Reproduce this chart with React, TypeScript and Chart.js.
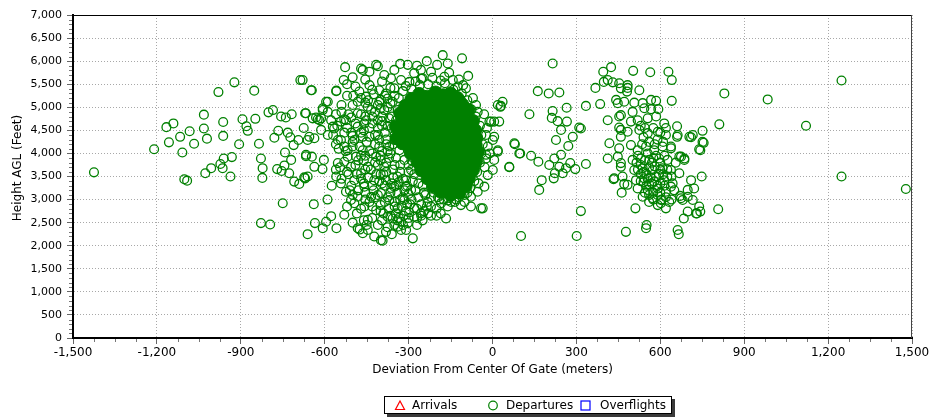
import React, { useEffect, useRef } from "react";
import { Chart, registerables } from "chart.js";

Chart.register(...registerables);

// ---- axes ----
const xMin = -1500;
const xMax = 1500;
const xStep = 300;
const xMinorStep = 75;
const yMin = 0;
const yMax = 7000;
const yStep = 500;
const yMinorStep = 100;
const xTitle = "Deviation From Center Of Gate (meters)";
const yTitle = "Height AGL (Feet)";
const seriesNames = ["Arrivals", "Departures", "Overflights"];

// ---- Departures: [deviation m, height ft] ----
const westPoints: [number, number][] = [
  [-1425, 3590], [-1210, 4090], [-1166, 4570], [-1141, 4650], [-1157, 4240], [-1117, 4360], [-1109, 4020],
  [-1083, 4480], [-1067, 4210], [-1102, 3440], [-1092, 3410], [-1032, 4840], [-1032, 4540], [-1021, 4320],
  [-1027, 3570], [-1006, 3680], [-980, 5330], [-963, 4680], [-963, 4380], [-923, 5540], [-973, 3770],
  [-961, 3890], [-932, 3920], [-965, 3680], [-937, 3500], [-906, 4200], [-894, 4740], [-880, 4590],
  [-875, 4490], [-852, 5360], [-848, 4750], [-835, 4210], [-828, 3890], [-822, 3680], [-823, 3470],
  [-828, 2490], [-795, 2460], [-801, 4890], [-785, 4940], [-780, 4340], [-766, 4490], [-756, 4800],
  [-739, 4780], [-718, 4850], [-732, 4450], [-723, 4350], [-770, 3660], [-754, 3620], [-744, 3740],
  [-720, 3860], [-742, 4020], [-711, 4180], [-694, 4290], [-727, 3570], [-709, 3390], [-691, 3340],
  [-673, 3480], [-750, 2920], [-687, 5590], [-646, 5370], [-670, 4870], [-675, 4550], [-667, 3970],
  [-646, 3930], [-661, 4290], [-637, 4330], [-625, 4740], [-608, 3660], [-603, 3860], [-639, 2900],
  [-635, 2490], [-661, 2250], [-607, 2380], [-595, 2520], [-577, 2640], [-558, 2380], [-589, 5120],
  [-607, 4940], [-558, 5360], [-532, 5590], [-527, 5870],
];

const midWestPoints: [number, number][] = [
  [-679, 5590], [-649, 5370], [-559, 5350], [-470, 5840], [-410, 5890], [-667, 4870], [-595, 5120],
  [-613, 4760], [-631, 4780], [-655, 4360], [-667, 3940], [-670, 3460], [-553, 3790], [-559, 3500],
  [-530, 3820], [-518, 4070], [-542, 4290], [-571, 4580], [-542, 4690], [-530, 4740], [-482, 5120],
  [-482, 4870], [-476, 5340], [-405, 5120], [-375, 5190], [-530, 2670], [-494, 2920], [-482, 2380],
  [-464, 2270], [-393, 2110], [-381, 2300], [-339, 2410], [-327, 2520], [-309, 2340], [-607, 4980],
  [-589, 4900], [-577, 4720], [-619, 4720], [-643, 4760], [-613, 4510], [-566, 4540], [-589, 4400],
  [-524, 4720], [-553, 4290], [-530, 4150], [-518, 3930], [-542, 3350], [-524, 3170], [-506, 2990],
  [-482, 3060], [-494, 3420], [-470, 3570], [-506, 3710], [-488, 3930], [-494, 4290], [-464, 4360],
  [-482, 4580], [-452, 4720], [-446, 5010], [-637, 3710], [-661, 3500],
  [-500, 5650], [-455, 5600], [-395, 5560], [-365, 5420], [-430, 5380], [-490, 5450],
  [-520, 5250], [-470, 5200], [-425, 5280], [-365, 5080], [-400, 4980], [-455, 5100], [-500, 5050],
  [-540, 4900], [-505, 4780], [-470, 4850], [-420, 4900], [-395, 4800], [-455, 4800], [-370, 4760],
  [-555, 4600], [-520, 4550], [-490, 4650], [-470, 4450], [-440, 4550], [-410, 4400], [-380, 4300],
  [-360, 4550], [-395, 4700], [-500, 4380], [-530, 4450],
  [-560, 4200], [-525, 4050], [-500, 4250], [-475, 4150], [-450, 4250], [-430, 4000], [-405, 4150],
  [-375, 4050], [-355, 4200], [-480, 3850], [-455, 3950],
  [-545, 3700], [-520, 3600], [-490, 3750], [-460, 3850], [-435, 3650], [-410, 3750], [-390, 3550],
  [-370, 3900], [-350, 3750], [-400, 3850],
];

const coreEdgePoints: [number, number][] = [
  [-178, 6130], [-109, 6060], [-87, 5680], [-95, 5410], [-142, 5590], [-198, 5920], [-220, 5770],
  [-256, 5810], [-280, 5740], [-303, 5920], [-330, 5940], [-351, 5810], [-363, 5630], [-387, 5700],
  [-416, 5920], [-440, 5770], [-464, 5810], [-440, 5480], [-405, 5370], [-381, 5300], [-351, 5410],
  [-327, 5590], [-297, 5550], [-250, 5630], [-172, 5660], [-124, 5450], [-113, 5160], [-59, 5050],
  [-53, 4900], [19, 5050], [-11, 4690], [6, 4690], [-23, 4400], [1, 4290], [-17, 4150], [-23, 3890],
  [1, 3640], [-17, 3530], [-29, 3280], [-53, 3170], [-77, 3060], [-41, 2810], [-77, 2850], [-113, 2880],
  [-148, 2950], [-184, 2920], [-166, 2590], [-220, 2850], [-256, 2700], [-280, 2630], [-303, 2490],
  [-327, 2340], [-285, 2160], [-351, 2450], [-375, 2630], [-399, 2120], [-423, 2200], [-446, 2340],
  [-339, 2810], [-315, 2990], [-291, 3210], [-309, 3420], [-291, 3640], [-315, 3860], [-333, 4070],
  [-351, 4290], [-339, 4510], [-345, 4720], [-339, 4940], [-357, 5120], [-387, 4940], [-410, 4720],
  [-434, 4940], [-458, 4650], [-440, 4360], [-405, 4290], [-369, 4150], [-416, 3930], [-387, 3710],
  [-446, 3710], [-423, 3420], [-381, 3420], [-351, 3280], [-399, 3140], [-434, 3060], [-458, 2850],
  [-416, 2770], [-369, 2990], [-357, 2590], [-446, 2560], [-458, 3280], [-464, 4070], [-452, 5230],
  [-399, 5160],
  [-360, 4800], [-375, 4600], [-350, 4400], [-385, 4450], [-365, 4000], [-380, 3800], [-355, 3650],
  [-340, 3500], [-400, 3550], [-360, 3350], [-395, 4050], [-420, 4200], [-410, 4550], [-375, 5000],
  [-430, 4650], [-345, 3900], [-330, 3750], [-320, 3450], [-305, 3300], [-300, 3600], [-290, 3850],
  [-350, 5250], [-320, 5350], [-290, 5400], [-260, 5480], [-230, 5500], [-200, 5450], [-170, 5520],
  [-140, 5380], [-110, 5300], [-90, 5150], [-75, 4950], [-60, 4800], [-45, 4600], [-40, 4400],
  [-35, 4200], [-40, 4000], [-45, 3800], [-55, 3600], [-65, 3400], [-80, 3250], [-100, 3100],
  [-130, 3000], [-160, 2980], [-190, 3000], [-220, 3050], [-245, 3150], [-265, 3350], [-280, 3550],
  [-300, 3750], [-30, 4850], [-20, 4550], [-28, 3700], [-10, 4000], [-50, 3350], [-255, 5620],
  [-215, 5640], [-155, 5750], [-120, 5600], [-270, 5900], [-235, 6000], [-160, 5950],
  [-310, 5460], [-275, 5560], [-185, 5580], [-105, 5480], [-335, 5200], [-70, 5200],
];

const lowerLobePoints: [number, number][] = [
  [-470, 3450], [-455, 3150], [-440, 2950], [-430, 3300], [-415, 3550], [-410, 3100], [-400, 2880],
  [-395, 3350], [-390, 2700], [-380, 3600], [-375, 3050], [-370, 2800], [-362, 3250], [-355, 3480],
  [-350, 2950], [-345, 2700], [-340, 3150], [-335, 3380], [-330, 3600], [-325, 2860], [-320, 3050],
  [-318, 2650], [-310, 3280], [-305, 2900], [-300, 3120], [-298, 2720], [-290, 3000], [-285, 3400],
  [-280, 2820], [-275, 3200], [-270, 2600], [-265, 3050], [-255, 2900], [-250, 3300], [-245, 2750],
  [-240, 3100], [-232, 2950], [-225, 3400], [-220, 2650], [-210, 3150], [-200, 2800], [-195, 3050],
  [-185, 2700], [-175, 3000], [-160, 2850], [-150, 3100], [-135, 2950], [-120, 3050], [-100, 2950],
  [-90, 3150], [-420, 3800], [-440, 4050], [-400, 3950], [-380, 4200], [-420, 4400], [-395, 4600],
  [-430, 4800], [-410, 5050], [-385, 5250], [-445, 5150], [-460, 4500], [-470, 3950], [-455, 3650],
  [-480, 3200], [-485, 2700], [-460, 2550], [-505, 3300], [-515, 3550], [-500, 4150], [-505, 4450],
  [-515, 4850], [-498, 5250], [-520, 5500], [-540, 5050], [-560, 4850], [-570, 4400], [-550, 4100],
  [-560, 3650], [-575, 3300], [-590, 3000],
  [-540, 3450], [-510, 3200], [-485, 3550], [-460, 3350], [-445, 3480], [-425, 3200], [-405, 3400],
  [-385, 3300], [-365, 3150], [-345, 3300], [-330, 3000], [-315, 3200],
  [-520, 2850], [-500, 3100], [-470, 2800], [-455, 3000], [-430, 2850], [-420, 3050], [-400, 2750],
  [-385, 2950], [-365, 2650], [-350, 2850], [-335, 2600], [-310, 2750], [-295, 2900], [-270, 2800],
  [-255, 2650], [-235, 2850],
  [-500, 2500], [-475, 2350], [-450, 2450], [-430, 2600], [-410, 2450], [-395, 2550], [-375, 2400],
  [-360, 2250], [-340, 2550], [-320, 2450], [-300, 2600], [-270, 2450], [-250, 2550], [-230, 2700],
  [-200, 2650],
];

const gapPoints: [number, number][] = [
  [215, 5950], [162, 5350], [201, 5300], [239, 5320], [132, 4850], [215, 4920], [265, 4990], [212, 4770],
  [233, 4700], [266, 4690], [245, 4510], [310, 4560], [287, 4360], [227, 4290], [271, 4160], [78, 4220],
  [99, 4000], [138, 3950], [164, 3820], [221, 3890], [245, 3970], [203, 3750], [239, 3710], [263, 3680],
  [278, 3790], [296, 3660], [334, 3770], [223, 3570], [219, 3460], [251, 3570], [176, 3420], [167, 3210],
  [60, 3700], [6, 3860], [-23, 3970], [19, 4040], [6, 4360], [24, 4690], [-5, 4690], [28, 5010],
  [36, 5120], [-35, 2810], [102, 2210], [316, 2750], [301, 2210], [334, 5030], [30, 5030], [80, 4200],
  [96, 4000], [60, 3710], [19, 4070], [316, 4540],
];

const eastPoints: [number, number][] = [
  [412, 4720], [385, 5070], [368, 5420], [396, 5770], [424, 5870], [412, 5590], [430, 5540], [453, 5520],
  [483, 5420], [481, 5340], [525, 5370], [503, 5790], [564, 5760], [629, 5770], [641, 5590], [641, 5140],
  [829, 5300], [811, 4630], [418, 4220], [412, 3890], [442, 5160], [453, 4800], [453, 4560], [459, 4360],
  [453, 4110], [459, 3710], [433, 3440], [471, 3340], [462, 3150], [511, 2810], [477, 2300], [551, 2450],
  [549, 2380], [662, 2340], [666, 2250], [684, 2590], [698, 2740], [731, 2700], [743, 2740], [807, 2790],
  [748, 3500], [710, 3420], [698, 3210], [671, 3080], [680, 2990], [716, 2990], [668, 3570], [668, 3930],
  [686, 3890], [638, 4150], [660, 4360], [660, 4590], [704, 4360], [716, 4400], [751, 4490], [751, 4250],
  [743, 4070], [638, 3280], [620, 2810], [602, 2920],
  [398, 5550], [483, 5480], [459, 5410], [448, 5090], [471, 5120], [507, 5100], [537, 5090], [567, 5160],
  [585, 5140], [593, 4960], [567, 4960], [543, 4980], [501, 4900], [459, 4830], [495, 4690], [519, 4720],
  [555, 4760], [585, 4800], [614, 4650], [459, 4510], [483, 4470], [525, 4510], [555, 4440], [591, 4470],
  [620, 4400], [662, 4400], [710, 4350], [739, 4090], [495, 4180], [519, 4070], [549, 4150], [578, 4070],
  [608, 4150], [638, 4110], [674, 3930], [686, 3860], [448, 3930], [459, 3790], [501, 3860], [531, 3890],
  [561, 3860], [596, 3890], [626, 3860], [507, 3640], [537, 3680], [573, 3640], [608, 3680], [638, 3640],
  [435, 3460], [465, 3500], [513, 3420], [543, 3460], [578, 3390], [614, 3420], [644, 3350], [483, 3320],
  [519, 3240], [555, 3210], [591, 3240], [620, 3170], [537, 3060], [573, 3030], [602, 2990], [632, 2950],
  [591, 2880], [674, 3030], [698, 3060], [721, 3240], [739, 2850], [728, 2700],
  [530, 3750], [550, 3560], [565, 3480], [580, 3720], [595, 3560], [560, 3330], [540, 3380], [575, 3150],
  [600, 3350], [610, 3550], [585, 3950], [555, 4000], [570, 3800], [530, 3550], [590, 3300], [545, 3150],
  [560, 3100], [600, 3150], [520, 3950], [560, 4250], [540, 4350], [590, 4300], [610, 4250], [575, 4550],
  [530, 4600], [600, 4450],
  [540, 3600], [555, 3450], [570, 3350], [585, 3500], [600, 3650], [615, 3300], [625, 3500], [560, 3700],
  [545, 3850], [575, 3900], [600, 3800], [615, 3950], [625, 3650], [550, 3300], [590, 3100], [605, 3000],
  [575, 3000], [560, 2950], [620, 3050], [640, 3000], [650, 3200], [640, 3500], [655, 3800], [530, 3400],
  [520, 3650], [515, 3800], [535, 4200], [580, 4200], [620, 4550], [545, 4550],
];

const farEastPoints: [number, number][] = [
  [1248, 5580], [984, 5170], [1121, 4600], [1248, 3500], [1478, 3230], [755, 4230],
];

// dense, fully overlapping core of the Departures cloud
const coreFillPoints: [number, number][] = [
  [-290, 5180], [-262, 5290], [-233, 5230], [-204, 5320], [-176, 5260], [-150, 5300], [-125, 5200],
  [-312, 5030], [-288, 5080], [-256, 5080], [-226, 5080], [-195, 5080], [-165, 5080], [-134, 5080], [-108, 5060],
  [-330, 4870], [-294, 4900], [-262, 4900], [-231, 4900], [-200, 4900], [-170, 4900], [-139, 4900], [-109, 4900], [-86, 4940],
  [-322, 4720], [-290, 4720], [-259, 4720], [-228, 4720], [-197, 4720], [-166, 4720], [-135, 4720], [-104, 4720], [-70, 4700],
  [-345, 4580], [-318, 4540], [-287, 4540], [-255, 4540], [-224, 4540], [-193, 4540], [-162, 4540], [-131, 4540], [-100, 4540], [-62, 4500],
  [-342, 4330], [-312, 4360], [-281, 4360], [-250, 4360], [-219, 4360], [-188, 4360], [-157, 4360], [-126, 4360], [-95, 4360], [-58, 4330],
  [-322, 4220], [-305, 4180], [-275, 4180], [-244, 4180], [-213, 4180], [-182, 4180], [-151, 4180], [-120, 4180], [-89, 4180], [-60, 4180],
  [-292, 4000], [-262, 4000], [-231, 4000], [-200, 4000], [-169, 4000], [-138, 4000], [-107, 4000], [-76, 4000], [-52, 4040],
  [-268, 3820], [-238, 3820], [-207, 3820], [-176, 3820], [-145, 3820], [-114, 3820], [-84, 3820], [-60, 3820],
  [-255, 3640], [-224, 3640], [-193, 3640], [-162, 3640], [-131, 3640], [-100, 3640], [-70, 3640],
  [-232, 3460], [-202, 3460], [-171, 3460], [-140, 3460], [-109, 3460], [-85, 3460],
  [-212, 3290], [-182, 3290], [-151, 3290], [-120, 3290], [-96, 3290],
  [-185, 3170], [-150, 3100], [-118, 3150],
];

const FONT = '"DejaVu Sans", Verdana, sans-serif';
const GREEN = "rgb(0,128,0)";

const toXY = (arr: [number, number][]) => arr.map(([x, y]) => ({ x, y }));
const fmt = (v: number) => v.toLocaleString("en-US");

const decorPlugin = {
  id: "decor",
  afterDraw(chart: any) {
    const { ctx, chartArea: a, scales } = chart;
    const xs = scales.x;
    const ys = scales.y;
    ctx.save();
    ctx.lineWidth = 1;
    ctx.strokeStyle = "#000";
    ctx.beginPath();
    ctx.moveTo(a.left, Math.round(a.top) + 0.5);
    ctx.lineTo(a.right, Math.round(a.top) + 0.5);
    ctx.stroke();
    ctx.strokeStyle = "#444";
    ctx.beginPath();
    ctx.moveTo(Math.round(a.right) - 0.5, a.top);
    ctx.lineTo(Math.round(a.right) - 0.5, a.bottom);
    ctx.stroke();
    ctx.strokeStyle = "#777";
    ctx.beginPath();
    for (let v = xMin; v <= xMax; v += xMinorStep) {
      if ((v - xMin) % xStep === 0) continue;
      const px = Math.round(xs.getPixelForValue(v)) + 0.5;
      ctx.moveTo(px, a.bottom + 1);
      ctx.lineTo(px, a.bottom + 4);
    }
    for (let v = yMin; v <= yMax; v += yMinorStep) {
      if ((v - yMin) % yStep === 0) continue;
      const py = Math.round(ys.getPixelForValue(v)) + 0.5;
      ctx.moveTo(a.left - 1, py);
      ctx.lineTo(a.left - 4, py);
    }
    ctx.stroke();
    ctx.save();
    ctx.translate(18, 168);
    ctx.rotate(-Math.PI / 2);
    ctx.textAlign = "center";
    ctx.textBaseline = "middle";
    ctx.fillStyle = "#000";
    ctx.font = `12px ${FONT}`;
    ctx.fillText(yTitle, 0, 0);
    ctx.restore();
    const lx = 384, ly = 396, lw = 288, lh = 18;
    ctx.fillStyle = "#3a3a3a";
    ctx.fillRect(lx + 3, ly + 3, lw, lh);
    ctx.fillStyle = "#fff";
    ctx.fillRect(lx, ly, lw, lh);
    ctx.strokeStyle = "#000";
    ctx.strokeRect(lx + 0.5, ly + 0.5, lw - 1, lh - 1);
    const cy = 405.5;
    ctx.lineWidth = 1.2;
    ctx.strokeStyle = "#ff0000";
    ctx.beginPath();
    ctx.moveTo(400, cy - 4.5);
    ctx.lineTo(404.5, cy + 4);
    ctx.lineTo(395.5, cy + 4);
    ctx.closePath();
    ctx.stroke();
    ctx.strokeStyle = GREEN;
    ctx.beginPath();
    ctx.arc(493, cy, 4.3, 0, Math.PI * 2);
    ctx.stroke();
    ctx.strokeStyle = "#0000ff";
    ctx.strokeRect(581, cy - 4.5, 9, 9);
    ctx.fillStyle = "#000";
    ctx.font = `12px ${FONT}`;
    ctx.textAlign = "left";
    ctx.textBaseline = "middle";
    ctx.fillText(seriesNames[0], 412, cy);
    ctx.fillText(seriesNames[1], 506, cy);
    ctx.fillText(seriesNames[2], 600, cy);
    ctx.restore();
  },
};

export default function App() {
  const ref = useRef<HTMLCanvasElement | null>(null);
  useEffect(() => {
    if (!ref.current) return;
    const departures = toXY([
      ...westPoints,
      ...midWestPoints,
      ...lowerLobePoints,
      ...coreEdgePoints,
      ...gapPoints,
      ...eastPoints,
      ...farEastPoints,
    ]);
    const chart = new Chart(ref.current, {
      type: "scatter",
      data: {
        datasets: [
          {
            label: seriesNames[1] + " core",
            data: toXY(coreFillPoints),
            pointRadius: 6.5,
            pointBorderWidth: 1,
            borderColor: GREEN,
            backgroundColor: GREEN,
          },
          {
            label: seriesNames[1],
            data: departures,
            pointRadius: 4.4,
            pointBorderWidth: 1.3,
            borderColor: GREEN,
            backgroundColor: "rgba(0,0,0,0)",
          },
          {
            label: seriesNames[0],
            data: [],
            pointStyle: "triangle",
            borderColor: "#ff0000",
            backgroundColor: "rgba(0,0,0,0)",
          },
          {
            label: seriesNames[2],
            data: [],
            pointStyle: "rect",
            borderColor: "#0000ff",
            backgroundColor: "rgba(0,0,0,0)",
          },
        ],
      },
      options: {
        responsive: false,
        animation: false,
        events: [],
        layout: { padding: { left: 0, right: 21, top: 15, bottom: 30 } },
        plugins: { legend: { display: false }, tooltip: { enabled: false } },
        scales: {
          x: {
            type: "linear",
            min: xMin,
            max: xMax,
            afterFit: (s: any) => {
              s.height = 50;
            },
            ticks: {
              stepSize: xStep,
              color: "#000",
              font: { family: FONT, size: 12 },
              padding: 2,
              maxRotation: 0,
              callback: (v: any) => fmt(Number(v)),
            },
            grid: { color: "#a8a8a8", lineWidth: 1, tickLength: 6, tickColor: "#666" },
            border: { display: true, color: "#000", width: 2, dash: [1, 2] },
            title: {
              display: true,
              text: xTitle,
              color: "#000",
              font: { family: FONT, size: 12 },
              padding: { top: 0, bottom: 11 },
            },
          },
          y: {
            type: "linear",
            min: yMin,
            max: yMax,
            afterFit: (s: any) => {
              s.width = 73;
            },
            ticks: {
              stepSize: yStep,
              color: "#000",
              font: { family: FONT, size: 11 },
              padding: 5,
              callback: (v: any) => fmt(Number(v)),
            },
            grid: { color: "#a8a8a8", lineWidth: 1, tickLength: 6, tickColor: "#666" },
            border: { display: true, color: "#000", width: 2, dash: [1, 2] },
          },
        },
      },
      plugins: [decorPlugin],
    });
    return () => chart.destroy();
  }, []);
  return (
    <div style={{ position: "fixed", left: 0, top: 0, width: 933, height: 418, background: "#fff" }}>
      <canvas ref={ref} width={933} height={418} style={{ display: "block" }} />
    </div>
  );
}
